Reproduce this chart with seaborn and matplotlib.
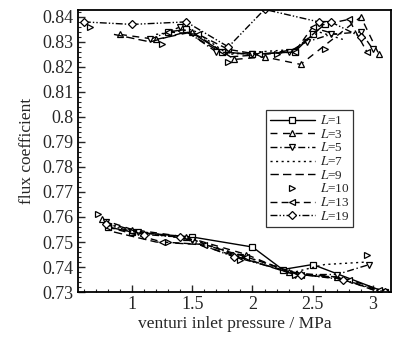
import matplotlib
matplotlib.use("Agg")
import matplotlib.pyplot as plt
from matplotlib.ticker import AutoMinorLocator
import seaborn as sns

# ---- data ----
labels = ["1", "3", "5", "7", "9", "10", "13", "19"]

# upper group (x, y)
up_L1_x = [1.3, 1.45, 1.75, 2.0, 2.35, 2.5, 2.6]
up_L1_y = [0.834, 0.835, 0.826, 0.825, 0.826, 0.833, 0.837]
up_L3_x = [0.9, 1.2, 1.5, 1.85, 2.1, 2.4, 2.9, 3.05]
up_L3_y = [0.833, 0.831, 0.834, 0.823, 0.824, 0.821, 0.840, 0.825]
up_L5_x = [1.15, 1.4, 1.7, 2.0, 2.3, 2.45, 2.65, 2.9, 3.0]
up_L5_y = [0.831, 0.836, 0.826, 0.825, 0.826, 0.830, 0.833, 0.834, 0.827]
up_L7_x = [1.2, 1.5, 1.8, 2.05, 2.35, 2.55, 2.75]
up_L7_y = [0.833, 0.835, 0.825, 0.826, 0.827, 0.834, 0.831]
up_L9_x = [0.85, 1.15, 1.45, 1.8, 2.1, 2.35, 2.55, 2.7]
up_L9_y = [0.833, 0.830, 0.834, 0.824, 0.825, 0.827, 0.835, 0.833]
up_L10_x = [0.65, 1.25, 1.8, 2.2, 2.6]
up_L10_y = [0.836, 0.829, 0.822, 0.825, 0.827]
up_L13_x = [1.3, 1.55, 1.8, 2.05, 2.35, 2.5, 2.8, 2.95]
up_L13_y = [0.834, 0.833, 0.827, 0.825, 0.826, 0.836, 0.839, 0.826]
up_L19_x = [0.6, 1.0, 1.45, 1.8, 2.1, 2.55, 2.65, 2.9]
up_L19_y = [0.838, 0.837, 0.838, 0.828, 0.843, 0.838, 0.838, 0.832]

# lower group (x, y)
lo_L1_x = [0.8, 1.0, 1.5, 2.0, 2.25, 2.5, 3.1]
lo_L1_y = [0.756, 0.754, 0.752, 0.748, 0.739, 0.741, 0.730]
lo_L3_x = [0.75, 1.0, 1.45, 1.95, 2.3, 2.7, 3.05]
lo_L3_y = [0.759, 0.755, 0.752, 0.745, 0.738, 0.736, 0.730]
lo_L5_x = [0.78, 1.05, 1.5, 1.9, 2.35, 2.7, 2.97]
lo_L5_y = [0.758, 0.754, 0.751, 0.744, 0.737, 0.737, 0.741]
lo_L7_x = [0.8, 1.1, 1.5, 1.95, 2.35, 2.6, 2.95]
lo_L7_y = [0.757, 0.754, 0.751, 0.744, 0.738, 0.741, 0.742]
lo_L9_x = [0.85, 1.2, 1.55, 1.95, 2.35, 2.7, 3.0]
lo_L9_y = [0.754, 0.750, 0.749, 0.743, 0.737, 0.736, 0.731]
lo_L10_x = [0.72, 1.3, 1.9, 2.35, 2.95]
lo_L10_y = [0.761, 0.750, 0.743, 0.737, 0.745]
lo_L13_x = [0.8, 1.25, 1.6, 1.95, 2.4, 2.8, 3.05]
lo_L13_y = [0.756, 0.750, 0.749, 0.744, 0.737, 0.735, 0.731]
lo_L19_x = [0.78, 1.1, 1.4, 1.85, 2.4, 2.75, 3.1]
lo_L19_y = [0.757, 0.753, 0.752, 0.744, 0.737, 0.735, 0.730]

upper = [(up_L1_x, up_L1_y), (up_L3_x, up_L3_y), (up_L5_x, up_L5_y), (up_L7_x, up_L7_y),
         (up_L9_x, up_L9_y), (up_L10_x, up_L10_y), (up_L13_x, up_L13_y), (up_L19_x, up_L19_y)]
lower = [(lo_L1_x, lo_L1_y), (lo_L3_x, lo_L3_y), (lo_L5_x, lo_L5_y), (lo_L7_x, lo_L7_y),
         (lo_L9_x, lo_L9_y), (lo_L10_x, lo_L10_y), (lo_L13_x, lo_L13_y), (lo_L19_x, lo_L19_y)]

xticks = [1, 1.5, 2, 2.5, 3]
xticklabels = ["1", "1.5", "2", "2.5", "3"]
yticks = [0.73, 0.74, 0.75, 0.76, 0.77, 0.78, 0.79, 0.80, 0.81, 0.82, 0.83, 0.84]
yticklabels = ["0.73", "0.74", "0.75", "0.76", "0.77", "0.78", "0.79", "0.8",
               "0.81", "0.82", "0.83", "0.84"]

# ---- style ----
sns.set_style("ticks")
plt.rcParams["font.family"] = ["Liberation Serif", "DejaVu Serif"]
plt.rcParams["mathtext.fontset"] = "stix"
plt.rcParams["xtick.direction"] = "in"
plt.rcParams["ytick.direction"] = "in"

styles = [
    dict(linestyle="-", marker="s"),
    dict(linestyle=(0, (5, 4)), marker="^"),
    dict(linestyle=(0, (5, 2, 1, 2)), marker="v"),
    dict(linestyle=(0, (1.5, 2.5)), marker=None),
    dict(linestyle=(0, (6, 3)), marker=None),
    dict(linestyle="none", marker=">"),
    dict(linestyle=(0, (5, 3)), marker="<"),
    dict(linestyle=(0, (5, 1.5, 1, 1.5, 1, 1.5)), marker="D"),
]

fig = plt.figure(figsize=(3.99, 3.38), dpi=100)
ax = fig.add_axes([0.195, 0.136, 0.785, 0.834])

for i, lab in enumerate(labels):
    st = styles[i]
    ms = 4.5 if st["marker"] == "D" else 5
    for g, (xs, ys) in enumerate([upper[i], lower[i]]):
        sns.lineplot(x=xs, y=ys, ax=ax, color="black", linewidth=1.0,
                     linestyle=st["linestyle"], marker=st["marker"], markersize=ms,
                     markerfacecolor="white", markeredgecolor="black", markeredgewidth=0.9,
                     label=(f"$L$={lab}" if g == 0 else None), sort=False, legend=False)

ax.set_xlim(0.55, 3.15)
ax.set_ylim(0.73, 0.8427)
ax.set_xticks(xticks)
ax.set_xticklabels(xticklabels)
ax.set_yticks(yticks)
ax.set_yticklabels(yticklabels)
ax.xaxis.set_minor_locator(AutoMinorLocator(5))
ax.yaxis.set_minor_locator(AutoMinorLocator(5))
ax.tick_params(axis="both", which="major", length=5, width=1, labelsize=13, top=False, right=False, pad=3)
ax.tick_params(axis="both", which="minor", length=2.5, width=0.8, top=False, right=False)
for s in ax.spines.values():
    s.set_linewidth(1.3)
    s.set_color("black")

ax.set_xlabel("venturi inlet pressure / MPa", fontsize=12.5, labelpad=2)
ax.set_ylabel("flux coefficient", fontsize=12.5, labelpad=5)

handles, labs = ax.get_legend_handles_labels()
leg = ax.legend(handles, labs, loc="upper left", bbox_to_anchor=(0.60, 0.645),
                frameon=True, fontsize=9.5, handlelength=3.4, handletextpad=0.4,
                labelspacing=0.05, borderpad=0.3, borderaxespad=0, fancybox=False)
leg.get_frame().set_edgecolor("black")
leg.get_frame().set_linewidth(0.9)

fig.savefig("out.png", dpi=100)
